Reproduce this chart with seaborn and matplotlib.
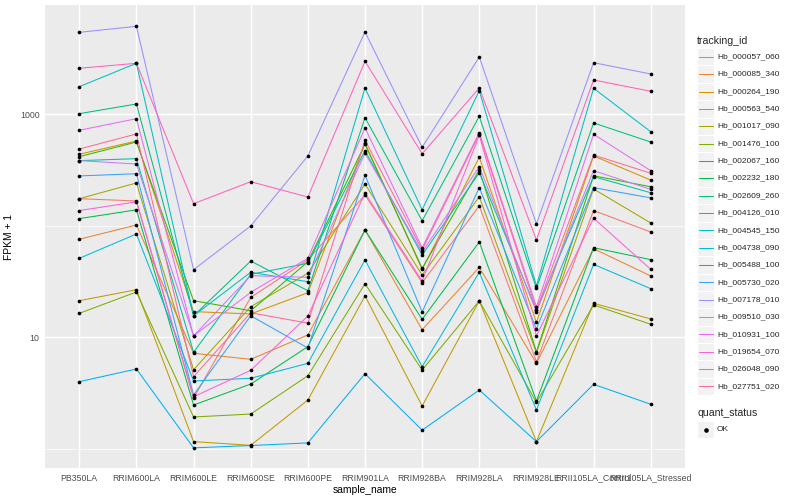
import numpy as np
import pandas as pd
import matplotlib
matplotlib.use("Agg")
import matplotlib.pyplot as plt
import seaborn as sns
from matplotlib.patches import Rectangle
from matplotlib.lines import Line2D
from matplotlib.ticker import FixedLocator, FixedFormatter, NullFormatter

samples = ["PB350LA", "RRIM600LA", "RRIM600LE", "RRIM600SE", "RRIM600PE", "RRIM901LA",
           "RRIM928BA", "RRIM928LA", "RRIM928LE", "RRII105LA_Control", "RRII105LA_Stressed"]

tracking_ids = ["Hb_000057_060", "Hb_000085_340", "Hb_000264_190", "Hb_000563_540",
                "Hb_001017_090", "Hb_001476_100", "Hb_002067_160", "Hb_002232_180",
                "Hb_002609_260", "Hb_004126_010", "Hb_004545_150", "Hb_004738_090",
                "Hb_005488_100", "Hb_005730_020", "Hb_007178_010", "Hb_009510_030",
                "Hb_010931_100", "Hb_019654_070", "Hb_026048_090", "Hb_027751_020"]

# FPKM + 1 per sample, one list per gene
hb_000057_060 = [175, 167, 2.84, 22.8, 49.4, 189, 30.9, 151, 6.04, 137, 88]
hb_000085_340 = [75.7, 101.7, 7.19, 6.35, 10.5, 91.7, 11.7, 42.4, 5.84, 62.3, 35.5]
hb_000264_190 = [438, 576, 17.0, 16.2, 25.1, 550, 40.7, 411, 13.6, 423, 257]
hb_000563_540 = [21.3, 26.7, 1.16, 1.075, 2.74, 23.5, 2.42, 21.2, 1.16, 20.2, 14.6]
hb_001017_090 = [175, 242, 5.12, 18.8, 37.5, 237, 36.2, 182, 7.28, 214, 106]
hb_001476_100 = [16.4, 25.5, 1.93, 2.05, 4.52, 30.2, 5.09, 21.2, 2.61, 19.5, 13.1]
hb_002067_160 = [417, 564, 21.3, 17.3, 47.6, 538, 41.6, 317, 7.43, 281, 224]
hb_002232_180 = [116, 139, 2.47, 3.81, 8.24, 91.7, 14.5, 71.6, 2.68, 63.6, 49.7]
hb_002609_260 = [1013, 1237, 15.6, 48.3, 26.2, 932, 111, 960, 27.5, 836, 564]
hb_004126_010 = [384, 400, 7.34, 36.7, 46.1, 472, 54.7, 299, 17.6, 276, 198]
hb_004545_150 = [1768, 2866, 15.6, 38.3, 31.5, 1722, 139.4, 1628, 29.0, 1711, 698]
hb_004738_090 = [51.1, 84.4, 4.06, 4.29, 5.84, 49.4, 5.45, 38.3, 2.23, 45.1, 27.3]
hb_005488_100 = [4.0, 5.2, 1.02, 1.07, 1.13, 4.72, 1.47, 3.37, 1.16, 3.79, 2.51]
hb_005730_020 = [280, 293, 3.04, 15.6, 8.02, 284, 16.9, 220, 11.9, 220, 178]
hb_007178_010 = [5430, 6150, 40.4, 99.6, 423, 5470, 506, 3266, 104, 2903, 2298]
hb_009510_030 = [384, 358, 10.3, 35.7, 34.5, 447, 57.9, 339, 16.9, 312, 212]
hb_010931_100 = [719, 913, 10.3, 25.3, 51.1, 754, 63.6, 684, 18.8, 662, 312]
hb_019654_070 = [137, 164, 2.93, 5.06, 15.5, 196, 32, 648, 10.3, 117, 40.7]
hb_026048_090 = [2586, 2866, 157.8, 248.6, 181, 2988, 443, 1722, 74.6, 2031, 1608]
hb_027751_020 = [488, 666, 4.43, 16.6, 13.4, 585, 60.7, 666, 17.6, 431, 296]

series = [hb_000057_060, hb_000085_340, hb_000264_190, hb_000563_540, hb_001017_090,
          hb_001476_100, hb_002067_160, hb_002232_180, hb_002609_260, hb_004126_010,
          hb_004545_150, hb_004738_090, hb_005488_100, hb_005730_020, hb_007178_010,
          hb_009510_030, hb_010931_100, hb_019654_070, hb_026048_090, hb_027751_020]


def hcl_to_hex(h, c=100.0, l=65.0):
    hr = np.deg2rad(h)
    u, v = c * np.cos(hr), c * np.sin(hr)
    Xn, Yn, Zn = 95.047, 100.0, 108.883
    den = Xn + 15 * Yn + 3 * Zn
    un, vn = 4 * Xn / den, 9 * Yn / den
    Y = Yn * ((l + 16) / 116) ** 3
    up = u / (13 * l) + un
    vp = v / (13 * l) + vn
    X = 9.0 * Y * up / (4 * vp)
    Z = -X / 3 - 5 * Y + 3 * Y / vp
    X, Y, Z = X / 100, Y / 100, Z / 100
    r = 3.240479 * X - 1.537150 * Y - 0.498535 * Z
    g = -0.969256 * X + 1.875992 * Y + 0.041556 * Z
    b = 0.055648 * X - 0.204043 * Y + 1.057311 * Z
    out = []
    for ch in (r, g, b):
        ch = 12.92 * ch if ch <= 0.0031308 else 1.055 * ch ** (1 / 2.4) - 0.055
        out.append(min(max(ch, 0), 1))
    return matplotlib.colors.to_hex(out)


n = len(tracking_ids)
palette = [hcl_to_hex(15 + 360.0 * i / n) for i in range(n)]
pal = dict(zip(tracking_ids, palette))

rows = []
for tid, vals in zip(tracking_ids, series):
    for s, v in zip(samples, vals):
        rows.append({"tracking_id": tid, "sample_name": s, "value": v, "quant_status": "OK"})
df = pd.DataFrame(rows)
df["sample_name"] = pd.Categorical(df["sample_name"], categories=samples, ordered=True)
df["xpos"] = df["sample_name"].cat.codes

sns.set_style("white")
plt.rcParams["font.family"] = ["Liberation Sans", "DejaVu Sans"]

fig = plt.figure(figsize=(8, 5), dpi=100)
W, H = 800, 500
L, R, T, B = 45, 685, 5, 468
ax = fig.add_axes([L / W, 1 - B / H, (R - L) / W, (B - T) / H])
ax.set_facecolor("#EBEBEB")

sns.lineplot(data=df, x="xpos", y="value", hue="tracking_id", palette=pal,
             hue_order=tracking_ids, units="tracking_id", estimator=None,
             sort=False, legend=False, linewidth=0.75, ax=ax, zorder=3)
sns.scatterplot(data=df, x="xpos", y="value", color="black", s=7, linewidth=0,
                legend=False, ax=ax, zorder=4)

ax.set_yscale("log")
ax.set_xlim(-0.6, len(samples) - 0.4)
ax.set_ylim(10 ** -0.172, 10 ** 3.98)

ax.xaxis.set_major_locator(FixedLocator(range(len(samples))))
ax.xaxis.set_major_formatter(FixedFormatter(samples))
ax.yaxis.set_major_locator(FixedLocator([10, 1000]))
ax.yaxis.set_major_formatter(FixedFormatter(["10", "1000"]))
ax.yaxis.set_minor_locator(FixedLocator([1, 100]))
ax.yaxis.set_minor_formatter(NullFormatter())

ax.grid(which="major", color="white", linewidth=1.05, zorder=0)
ax.grid(which="minor", axis="y", color="white", linewidth=0.5, zorder=0)
ax.set_axisbelow(True)
for sp in ax.spines.values():
    sp.set_visible(False)
ax.tick_params(which="major", length=2.5, width=0.7, color="#333333",
               labelcolor="#4D4D4D", labelsize=6.3, pad=1.5)
ax.tick_params(which="minor", length=0)

ax.set_xlabel("sample_name", fontsize=7.4, color="black", labelpad=2)
ax.set_ylabel("FPKM + 1", fontsize=7.4, color="black", labelpad=4)

# legend drawn in ggplot style
def fx(px):
    return px / W

def fy(py):
    return 1 - py / H

fig.text(fx(697), fy(40.5), "tracking_id", fontsize=7.6, va="center", ha="left")
step = 17.35
for i, tid in enumerate(tracking_ids):
    yc = 56.8 + step * i
    fig.patches.append(Rectangle((fx(697), fy(yc + step / 2)), 17.3 / W, step / H,
                                 transform=fig.transFigure, facecolor="#F2F2F2",
                                 edgecolor="white", linewidth=0.8))
    fig.lines.append(Line2D([fx(699), fx(712.5)], [fy(yc), fy(yc)], transform=fig.transFigure,
                            color=pal[tid], linewidth=0.75))
    fig.text(fx(717), fy(yc), tid, fontsize=6.0, va="center", ha="left")

fig.text(fx(697), fy(412.5), "quant_status", fontsize=7.6, va="center", ha="left")
yc = 429.5
fig.patches.append(Rectangle((fx(697), fy(yc + step / 2)), 17.3 / W, step / H,
                             transform=fig.transFigure, facecolor="#F2F2F2",
                             edgecolor="white", linewidth=0.8))
fig.lines.append(Line2D([fx(705.6)], [fy(yc)], transform=fig.transFigure, color="black",
                        marker="o", markersize=2.3, linestyle="none"))
fig.text(fx(717), fy(yc), "OK", fontsize=6.0, va="center", ha="left")

fig.savefig("out.png", dpi=100)
